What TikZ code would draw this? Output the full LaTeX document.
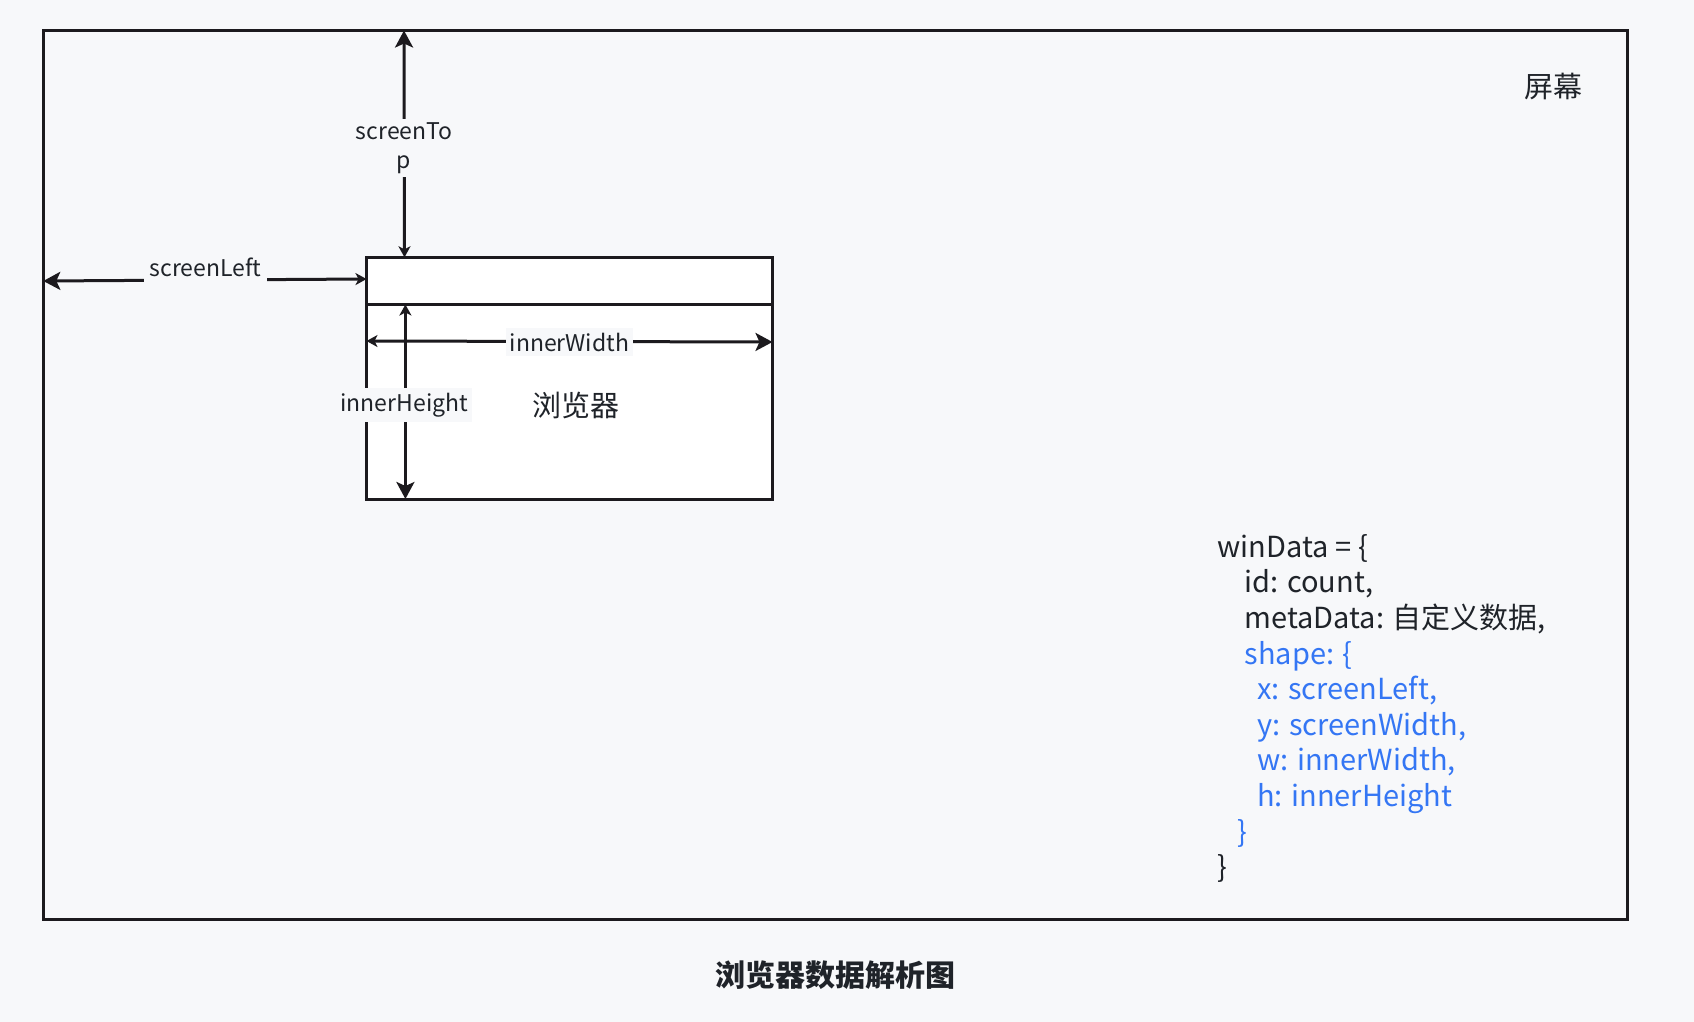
\documentclass[tikz,border=0pt]{standalone}
\usepackage{fontspec}
\setmainfont{Noto Sans CJK SC}
\usetikzlibrary{arrows.meta}
\definecolor{bg}{RGB}{247,248,250}
\definecolor{ink}{RGB}{31,35,41}
\definecolor{edge}{RGB}{28,26,30}
\definecolor{codeblue}{RGB}{52,118,244}
\tikzset{
  frame/.style={draw=edge, line width=3pt, inner sep=0pt},
  dim/.style={draw=edge, line width=3pt,
    {Stealth[length=17pt,width=18pt,inset=4pt]}-{Stealth[length=11pt,width=12pt,inset=3pt]}},
  dimr/.style={draw=edge, line width=3pt,
    {Stealth[length=11pt,width=12pt,inset=3pt]}-{Stealth[length=17pt,width=18pt,inset=4pt]}},
  lbl/.style={fill=bg, text=ink, font=\fontsize{23}{29}\selectfont, inner xsep=4pt, inner ysep=5pt, align=center},
  big/.style={text=ink, font=\fontsize{29}{34}\selectfont, inner sep=0pt},
  code/.style={text=ink, font=\fontsize{29}{35}\selectfont, inner sep=0pt, anchor=base west},
  codeb/.style={code, text=codeblue}
}
\begin{document}
\begin{tikzpicture}[x=1pt,y=-1pt]
\fill[bg] (0,0) rectangle (1694,1022);
\useasboundingbox (0,0) rectangle (1694,1022);
% screen
\node[frame, minimum width=1583.7pt, minimum height=889pt] (screen) at (835.2,475) {};
\node[big] (screenlbl) at (1553,86.4) {屏幕};
% browser
\node[frame, fill=white, minimum width=406pt, minimum height=241.7pt] (browser) at (569.5,378.2) {};
\coordinate (barL) at (366.5,304.5);
\coordinate (barR) at (772.5,304.5);
\draw[edge, line width=3pt] (barL) -- (barR);
\node[big] (browserlbl) at (576,405) {浏览器};
% screenTop
\coordinate (stA) at (404,30.5);
\coordinate (stB) at (404.5,257.3);
\draw[dim] (stA) -- (stB);
\node[lbl, inner ysep=3pt] (stlbl) at (404,148) {screenTo\\p};
% screenLeft
\coordinate (slA) at (43.3,281);
\coordinate (slB) at (366.5,279);
\draw[dim] (slA) -- (slB);
\node[lbl, inner xsep=6pt, text depth=6pt, inner ysep=6pt] (sllbl) at (205.5,270) {screenLeft};
% innerWidth
\coordinate (iwA) at (366.5,341);
\coordinate (iwB) at (772.5,342);
\draw[dimr] (iwA) -- (iwB);
\node[lbl] (iwlbl) at (569.4,342) {innerWidth};
% innerHeight
\coordinate (ihA) at (405.4,304.5);
\coordinate (ihB) at (405.4,499);
\draw[dimr] (ihA) -- (ihB);
\node[lbl] (ihlbl) at (404.3,405) {innerHeight};
% code
\node[code]  (c1)  at (1217.5,557.3) {winData = \{};
\node[code]  (c2)  at (1244.4,592.9) {id: count,};
\node[code]  (c3)  at (1244.4,628.5) {metaData: 自定义数据,};
\node[codeb] (c4)  at (1244.4,664.1) {shape: \{};
\node[codeb] (c5)  at (1257,699.7) {x: screenLeft,};
\node[codeb] (c6)  at (1257,735.3) {y: screenWidth,};
\node[codeb] (c7)  at (1257,770.9) {w: innerWidth,};
\node[codeb] (c8)  at (1257,806.5) {h: innerHeight};
\node[codeb] (c9)  at (1236.8,842.1) {\}};
\node[code]  (c10) at (1217.5,877.7) {\}};
% title
\node[big, font=\fontsize{30}{34}\selectfont\bfseries] (title) at (835.5,975) {浏览器数据解析图};
\end{tikzpicture}
\end{document}
